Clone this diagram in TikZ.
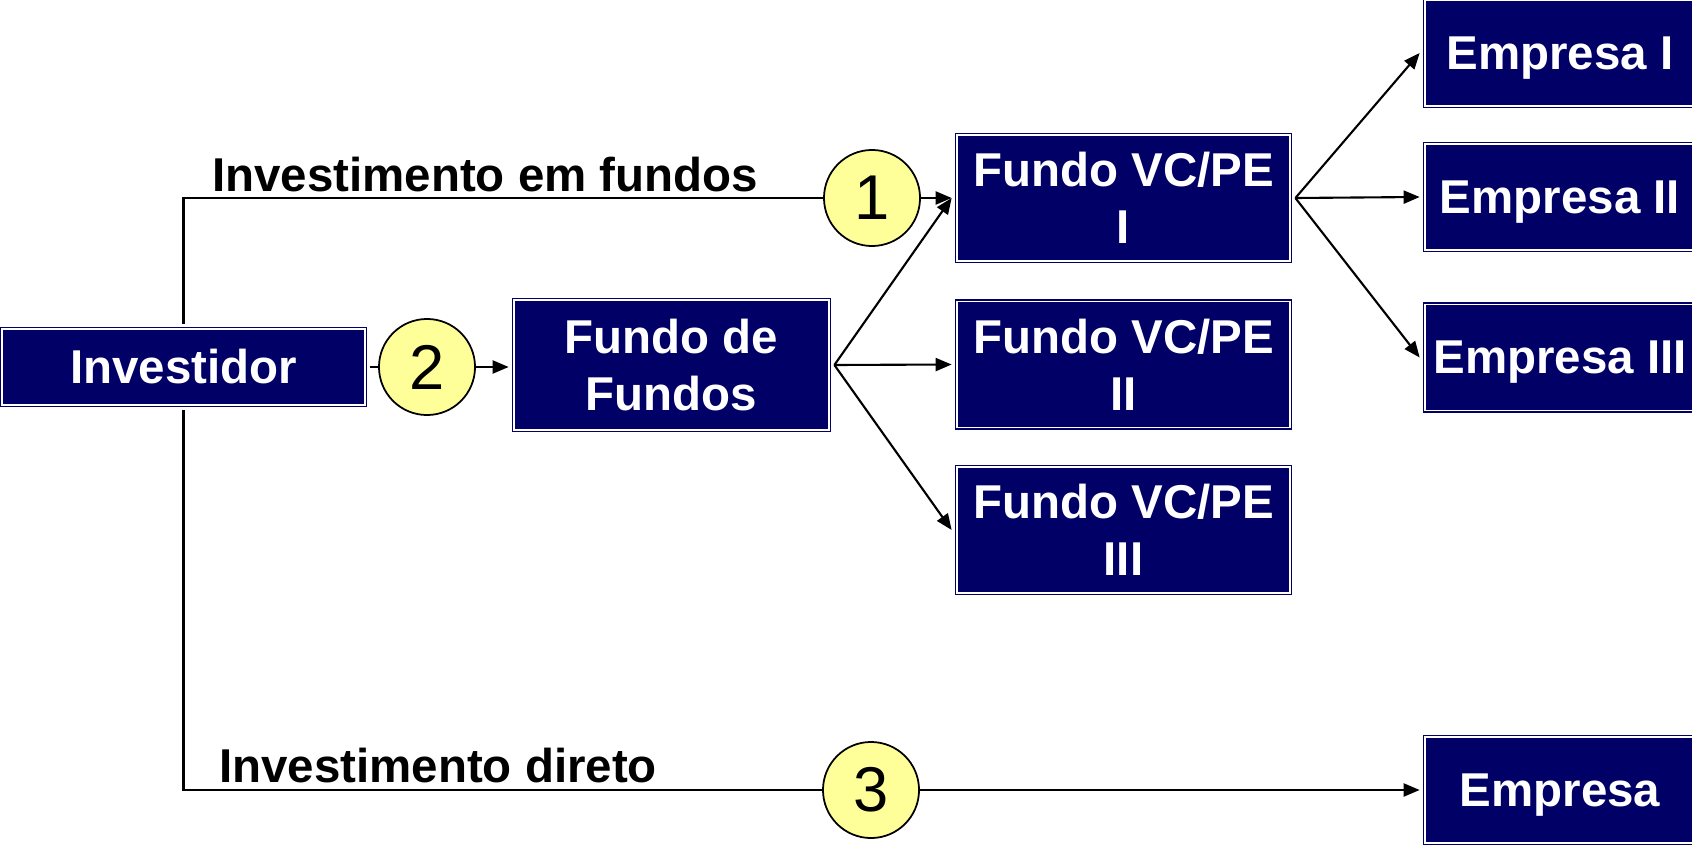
\documentclass[tikz,border=0pt]{standalone}
\usepackage{fontspec}
\setmainfont{Liberation Sans}
\usetikzlibrary{arrows.meta}
\definecolor{navy}{RGB}{0,0,102}
\definecolor{paleyellow}{RGB}{255,255,153}
\begin{document}
\begin{tikzpicture}[x=0.01cm, y=-0.01cm, line width=0.6pt,
    box/.style={rectangle, fill=navy, draw=navy, double=white, line width=0.4pt, double distance=0.45pt, outer sep=1.5pt, inner sep=0pt, text=white, align=center, font=\fontsize{13.5}{16.2}\selectfont\bfseries},
    empbox/.style={box, minimum width=2.70cm, minimum height=1.06cm, text depth=0pt},
    num/.style={circle, fill=paleyellow, draw=black, line width=0.5pt, minimum size=0.96cm, inner sep=0pt, font=\fontsize{18}{20}\selectfont},
    lbl/.style={inner sep=0pt, anchor=base west, font=\fontsize{13.5}{16.2}\selectfont\bfseries},
    arr/.style={-{Triangle[length=0.16cm, width=0.13cm]}}]
            \useasboundingbox (0,0) rectangle (1692,846);
            \node[box, minimum width=3.63cm, minimum height=0.76cm] (inv) at (183.5,367) {Investidor};
            \node[num] (c2) at (427,367) {2};
            \node[box, minimum width=3.15cm, minimum height=1.30cm] (fdf) at (671.5,365) {Fundo de\\Fundos};
            \node[num] (c1) at (872,198) {1};
            \node[box, minimum width=3.33cm, minimum height=1.26cm] (fvc1) at (1123.5,198) {Fundo VC/PE\\I};
            \node[box, minimum width=3.33cm, minimum height=1.26cm] (fvc2) at (1123.5,364.5) {Fundo VC/PE\\II};
            \node[box, minimum width=3.33cm, minimum height=1.26cm] (fvc3) at (1123.5,530) {Fundo VC/PE\\III};
            \node[empbox] (emp1) at (1560,53) {Empresa I};
            \node[empbox] (emp2) at (1560,197) {Empresa II};
            \node[empbox] (emp3) at (1560,357.5) {Empresa III};
            \node[num] (c3) at (871,790) {3};
            \node[empbox] (emp) at (1560,790) {Empresa};
            \node[lbl] (lbl1) at (211,192) {Investimento em fundos};
            \node[lbl] (lbl3) at (218,782) {Investimento direto};
            \draw (inv.east) -- (c2.west);
            \draw[arr] (c2.east) -- (c2 -| fdf.west);
            \draw (inv.north) |- (c1.west);
            \draw[arr] (c1.east) -- (fvc1.west);
            \draw (inv.south) |- (c3.west);
            \draw[arr] (c3.east) -- (emp.west);
            \foreach \f in {fvc1,fvc2,fvc3}
                \draw[arr] (fdf.east) -- (\f.west);
            \foreach \e in {emp1,emp2,emp3}
                \draw[arr] (fvc1.east) -- (\e.west);
        \end{tikzpicture}
\end{document}
